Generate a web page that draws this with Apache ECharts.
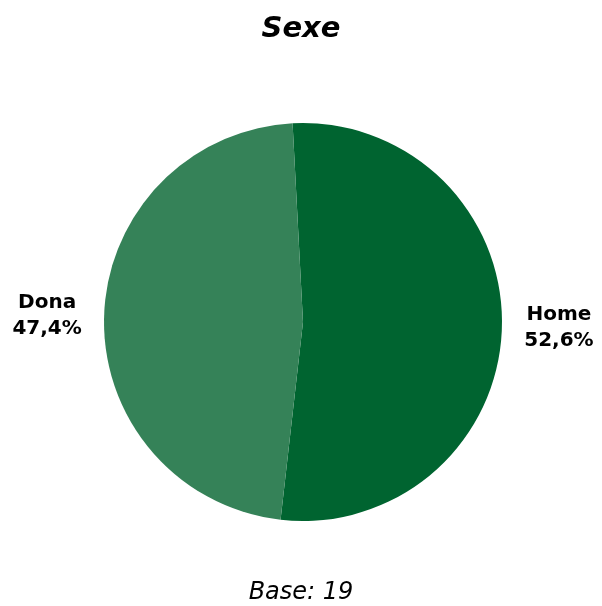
<!DOCTYPE html>
<html>
<head>
<meta charset="utf-8">
<script src="https://cdn.jsdelivr.net/npm/echarts@6/dist/echarts.min.js"></script>
<style>
html,body{margin:0;padding:0;background:#fff;}
#c{width:602px;height:606px;}
</style>
</head>
<body>
<div id="c"></div>
<script>
const categories = ['Home', 'Dona'];
const counts = [10, 9];
const colors = ['#006430', '#358258'];
const titleText = 'Sexe';
const baseText = 'Base: 19';

const FONT = 'Tahoma, "DejaVu Sans", sans-serif';
const chart = echarts.init(document.getElementById('c'));
chart.setOption({
  backgroundColor: '#ffffff',
  animation: false,
  title: [
    { text: titleText, left: 'center', top: 10,
      textStyle: { fontFamily: FONT, fontSize: 29, fontWeight: 'bold', fontStyle: 'italic', color: '#000' } },
    { text: baseText, left: 'center', top: 576,
      textStyle: { fontFamily: FONT, fontSize: 24, fontWeight: 'normal', fontStyle: 'italic', color: '#000' } }
  ],
  series: [{
    type: 'pie',
    center: [303, 322],
    radius: [0, 199],
    startAngle: 93,
    clockwise: true,
    data: categories.map((c, i) => ({ name: c, value: counts[i], itemStyle: { color: colors[i] } })),
    itemStyle: { borderWidth: 0 },
    label: {
      show: true,
      position: 'outside',
      bleedMargin: 1,
      formatter: p => '{a|' + p.name + '}\n{a|' + p.percent.toFixed(1).replace('.', ',') + '%}',
      rich: {
        a: { fontFamily: FONT, fontSize: 20, fontWeight: 'bold', color: '#000', width: 76, align: 'center', lineHeight: 26 }
      }
    },
    labelLine: { show: false, length: 7, length2: 7 },
    emphasis: { disabled: true }
  }]
});
</script>
</body>
</html>
